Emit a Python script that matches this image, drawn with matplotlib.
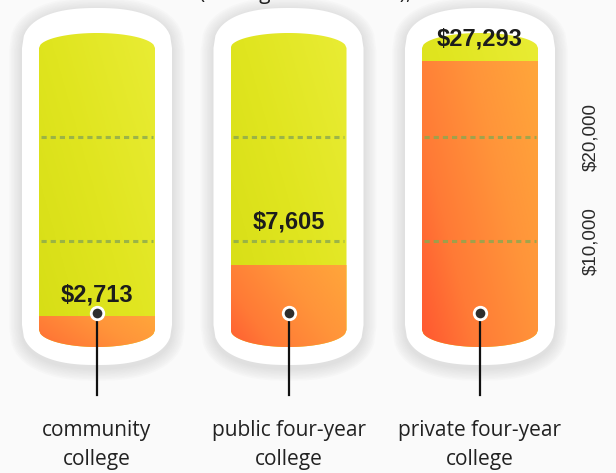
import numpy as np
import matplotlib.pyplot as plt
from matplotlib.patches import Polygon
from matplotlib.colors import LinearSegmentedColormap

# data
categories = ['community\ncollege', 'public four-year\ncollege', 'private four-year\ncollege']
costs = [2713, 7605, 27293]
cost_labels = ['$2,713', '$7,605', '$27,293']
grid_values = [10000, 20000]
tick_labels = ['$10,000', '$20,000']
capacity = 30000  # top of each cylinder

W, H = 616, 473
fig = plt.figure(figsize=(W / 100, H / 100), dpi=100)
fig.patch.set_facecolor('#fafafa')
ax = fig.add_axes([0, 0, 1, 1])
ax.set_facecolor('#fafafa')

# map data -> pixels: x index 0 at 97px, 191.5px per step; $0 at 345px, 0.0104 px per $
x0_px, x_step = 97, 191.5
y0_px, y_scale = 345, 0.0104
xlim = (-x0_px / x_step, (W - x0_px) / x_step)
ylim = ((y0_px - H) / y_scale, y0_px / y_scale)
sx = 1 / x_step    # data units per pixel (x)
sy = 1 / y_scale   # data units per pixel (y)


def capsule(xc, hw_px, top, bottom, cap_top_px, cap_bot_px, p=2.0, n=80):
    t = np.linspace(-1, 1, n)
    bulge = 1 - (1 - np.abs(t) ** p) ** (1 / p)
    xs = xc + t * hw_px * sx
    y_top = top - cap_top_px * sy * bulge
    y_bot = bottom + cap_bot_px * sy * bulge
    pts = np.column_stack([np.r_[xs, xs[::-1]], np.r_[y_top, y_bot[::-1]]])
    return pts


orange_cmap = LinearSegmentedColormap.from_list(
    'or', [(0, '#ff5430'), (0.3, '#ff7a36'), (0.65, '#ff943a'), (1, '#ffa63a')])
yellow_cmap = LinearSegmentedColormap.from_list('ye', ['#d6dd15', '#e0e51f', '#e9ec34'])

u, v = np.meshgrid(np.linspace(0, 1, 60), np.linspace(0, 1, 60))

inner_hw = 58
inner_bottom = -2 * sy

for i, (cat, cost, lab) in enumerate(zip(categories, costs, cost_labels)):
    xc = i
    # soft shadow
    for k in range(8):
        e = (k + 1) * 1.6
        pts = capsule(xc, 75 + e, capacity + (25 + e) * sy - 2 * sy,
                      inner_bottom - (18 + e) * sy - 3 * sy, 40 + e, 40 + e, p=2.4)
        ax.add_patch(Polygon(pts, closed=True, fc='#5a5a5a', ec='none', alpha=0.02, zorder=1))
    # white outer capsule
    outer = capsule(xc, 75, capacity + 25 * sy, inner_bottom - 18 * sy, 40, 40, p=2.4)
    ax.add_patch(Polygon(outer, closed=True, fc='white', ec='none', zorder=2))

    # inner cylinder
    inner = capsule(xc, inner_hw, capacity, inner_bottom, 15, 17, p=2.0)
    clip = Polygon(inner, closed=True, fc='none', ec='none', zorder=2)
    ax.add_patch(clip)
    x_left, x_right = xc - inner_hw * sx, xc + inner_hw * sx

    im = ax.imshow(0.55 * u + 0.45 * v, cmap=yellow_cmap, origin='lower',
                   extent=[x_left, x_right, inner_bottom - 20 * sy, capacity],
                   aspect='auto', interpolation='bilinear', zorder=3)
    im.set_clip_path(clip)
    im = ax.imshow(0.6 * u + 0.4 * v, cmap=orange_cmap, origin='lower',
                   extent=[x_left, x_right, inner_bottom - 20 * sy, cost],
                   aspect='auto', interpolation='bilinear', zorder=3.5)
    im.set_clip_path(clip)

    # dashed gridlines
    for g in grid_values:
        ax.plot([x_left + 2 * sx, x_right - 2 * sx], [g, g], ls=(0, (1.7, 1.3)), lw=2.2,
                color='#8aa850', alpha=0.8, zorder=4, solid_capstyle='butt')

    # value label, kept clear of the dashed lines
    label_y = cost + 22 * sy
    for g in grid_values:
        if abs(label_y - g) < 14 * sy:
            label_y = g + 19 * sy
    ax.text(xc, label_y, lab, ha='center', va='center', fontsize=17,
            fontweight='bold', family='Liberation Sans', color='#1c1c1c', zorder=6)

    # pointer dot and line
    dot_y = 32 * sy
    ax.plot([xc, xc], [dot_y, -50 * sy], color='#111111', lw=1.6, zorder=5)
    ax.plot(xc, dot_y, 'o', ms=9, mfc='#2e2e2e', mec='white', mew=2, zorder=6)

    # category label
    ax.text(xc, -100 * sy, cat, ha='center', va='center', fontsize=15,
            family='Open Sans', color='#222222', linespacing=1.5, zorder=6)

# value scale on the right
for g, tl in zip(grid_values, tick_labels):
    ax.text((591 - x0_px) * sx, g, tl, rotation=90, ha='center', va='center',
            fontsize=13.5, family='Liberation Sans', color='#2a2a2a')

# title cut off at top
ax.text((305 - x0_px) * sx, (y0_px + 1) * sy, '(average annual cost),', ha='center',
        va='baseline', fontsize=15, family='Open Sans', color='#222222')

ax.set_xlim(*xlim)
ax.set_ylim(*ylim)
ax.set_aspect('auto')
ax.axis('off')

fig.savefig('out.png', dpi=100, facecolor=fig.get_facecolor())
